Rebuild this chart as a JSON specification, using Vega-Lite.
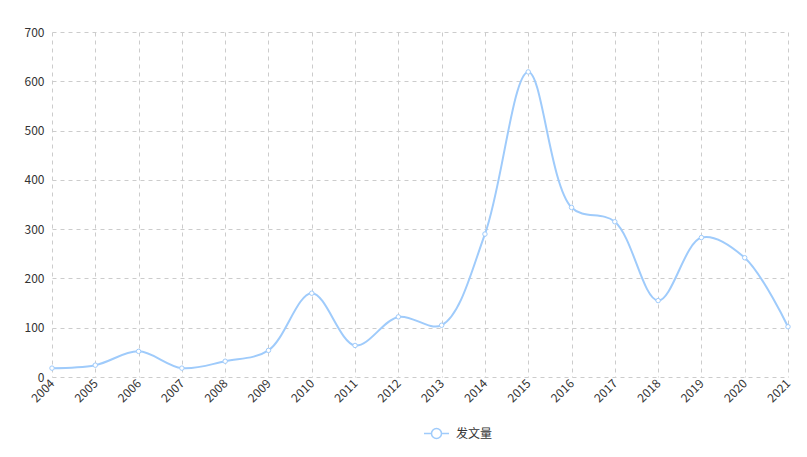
{
  "$schema": "https://vega.github.io/schema/vega-lite/v6.json",
  "width": 736,
  "height": 345,
  "autosize": {"type": "none"},
  "padding": {"left": 52, "top": 32, "right": 19, "bottom": 80},
  "background": "white",
  "config": {
    "view": {"stroke": null},
    "font": "Noto Sans CJK SC"
  },
  "data": {
    "values": [
      {"year": "2004", "count": 18},
      {"year": "2005", "count": 24},
      {"year": "2006", "count": 52},
      {"year": "2007", "count": 18},
      {"year": "2008", "count": 32},
      {"year": "2009", "count": 54},
      {"year": "2010", "count": 170},
      {"year": "2011", "count": 64},
      {"year": "2012", "count": 122},
      {"year": "2013", "count": 105},
      {"year": "2014", "count": 290},
      {"year": "2015", "count": 619},
      {"year": "2016", "count": 344},
      {"year": "2017", "count": 315},
      {"year": "2018", "count": 155},
      {"year": "2019", "count": 283},
      {"year": "2020", "count": 242},
      {"year": "2021", "count": 102}
    ]
  },
  "encoding": {
    "x": {
      "field": "year",
      "type": "ordinal",
      "scale": {"type": "point", "padding": 0},
      "axis": {
        "title": null,
        "labelAngle": -45,
        "labelAlign": "right",
        "labelBaseline": "middle",
        "labelFontSize": 12,
        "labelColor": "#333",
        "labelPadding": 4,
        "domain": false,
        "ticks": false,
        "grid": true,
        "gridDash": [4, 4],
        "gridColor": "#cccccc"
      }
    },
    "y": {
      "field": "count",
      "type": "quantitative",
      "scale": {"domain": [0, 700], "nice": false},
      "axis": {
        "title": null,
        "values": [0, 100, 200, 300, 400, 500, 600, 700],
        "labelFontSize": 12,
        "labelColor": "#333",
        "labelPadding": 8,
        "domain": false,
        "ticks": false,
        "grid": true,
        "gridDash": [4, 4],
        "gridColor": "#cccccc"
      }
    },
    "color": {
      "datum": "发文量",
      "type": "nominal",
      "scale": {"range": ["#9fcbfb"]},
      "legend": {
        "title": null,
        "orient": "none",
        "legendX": 371,
        "legendY": 388,
        "direction": "horizontal",
        "labelFontSize": 12,
        "labelColor": "#333",
        "labelOffset": 6,
        "symbolType": "M -1 0 L -0.4 0 M 0.4 0 L 1 0 M -0.4 0 A 0.4 0.4 0 1 1 0.4 0 A 0.4 0.4 0 1 1 -0.4 0",
        "symbolSize": 625,
        "symbolStrokeWidth": 1.5,
        "symbolFillColor": "white",
        "encode": {
          "symbols": {
            "update": {
              "fill": {"value": "white"},
              "fillOpacity": {"value": 1},
              "stroke": {"value": "#9fcbfb"},
              "strokeWidth": {"value": 1.5}
            }
          }
        }
      }
    }
  },
  "layer": [
    {
      "mark": {"type": "line", "interpolate": "catmull-rom", "strokeWidth": 2}
    },
    {
      "mark": {"type": "point", "filled": false, "fill": "white", "fillOpacity": 1, "strokeWidth": 1, "size": 20, "opacity": 1}
    }
  ]
}
